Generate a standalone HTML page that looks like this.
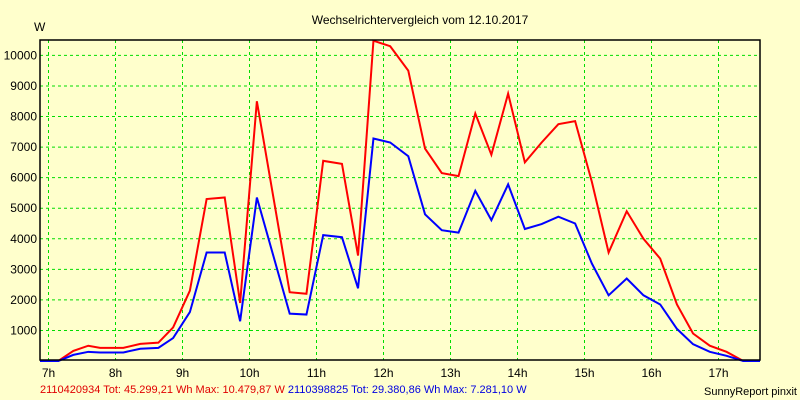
<!DOCTYPE html>
<html><head><meta charset="utf-8"><style>
body{margin:0;background:#ffffcc;}
svg{display:block;font-family:"Liberation Sans",Arial,sans-serif;}
</style></head><body>
<svg width="800" height="400">
<rect x="0" y="0" width="800" height="400" fill="#ffffcc"/>
<text x="420" y="24" font-size="12" text-anchor="middle">Wechselrichtervergleich vom 12.10.2017</text>
<text x="34" y="31" font-size="12">W</text>
<g id="grid"></g>
<g id="series"></g>
<rect x="40" y="40" width="720" height="320" fill="none" stroke="#000" stroke-width="1.5"/>
<text x="40" y="393" font-size="11"><tspan fill="#e00000">2110420934 Tot: 45.299,21 Wh Max: 10.479,87 W</tspan><tspan fill="#0000e0"> 2110398825 Tot: 29.380,86 Wh Max: 7.281,10 W</tspan></text>
<text x="797" y="395" font-size="11" text-anchor="end">SunnyReport pinxit</text>
</svg>
<script>
const hourTicks=[7,8,9,10,11,12,13,14,15,16,17];
const valueTicks=[1000,2000,3000,4000,5000,6000,7000,8000,9000,10000];
const times=[6.87,7.146,7.37,7.594,7.77,8.117,8.37,8.64,8.86,9.11,9.36,9.63,9.86,10.11,10.6,10.85,11.1,11.38,11.62,11.85,12.1,12.37,12.62,12.87,13.12,13.37,13.61,13.86,14.11,14.36,14.61,14.86,15.11,15.36,15.63,15.88,16.13,16.38,16.62,16.87,17.12,17.37,17.62];
const redValues=[0,0,330,500,430,430,560,600,1100,2300,5300,5350,1900,8500,2250,2200,6550,6450,3450,10480,10300,9500,6950,6150,6050,8100,6750,8750,6500,7150,7750,7850,5860,3550,4900,4000,3350,1850,900,500,300,0,0];
const blueValues=[0,0,200,300,280,280,400,430,750,1600,3550,3550,1300,5350,1550,1520,4120,4050,2380,7280,7150,6700,4800,4280,4200,5570,4610,5780,4320,4480,4720,4500,3190,2150,2700,2150,1850,1050,550,300,170,0,0];
const NS='http://www.w3.org/2000/svg';
const xS=h=>Math.min(760,Math.max(40,48.5+(h-7)*67));
const yS=v=>361-v*0.03056;
const svg=document.querySelector('svg');
const grid=document.getElementById('grid'),ser=document.getElementById('series');
hourTicks.forEach(h=>{
 const l=document.createElementNS(NS,'line');
 l.setAttribute('x1',xS(h));l.setAttribute('x2',xS(h));l.setAttribute('y1',40);l.setAttribute('y2',360);
 l.setAttribute('stroke','#00dd00');l.setAttribute('stroke-dasharray','3,3');
 
 
 grid.appendChild(l);
 const t=document.createElementNS(NS,'text');
 t.setAttribute('x',xS(h));t.setAttribute('y',377);t.setAttribute('font-size','12');t.setAttribute('text-anchor','middle');
 t.textContent=h+'h';
 
 
 svg.appendChild(t);
});
valueTicks.forEach(v=>{
 const l=document.createElementNS(NS,'line');
 l.setAttribute('x1',40);l.setAttribute('x2',760);l.setAttribute('y1',yS(v));l.setAttribute('y2',yS(v));
 l.setAttribute('stroke','#00dd00');l.setAttribute('stroke-dasharray','3,3');
 
 
 grid.appendChild(l);
 const t=document.createElementNS(NS,'text');
 t.setAttribute('x',37);t.setAttribute('y',yS(v)+4);t.setAttribute('font-size','12');t.setAttribute('text-anchor','end');
 t.textContent=v;
 
 
 svg.appendChild(t);
});
function line(vals,color,name){
 const p=document.createElementNS(NS,'polyline');
 p.setAttribute('points',vals.map((v,i)=>xS(times[i])+','+yS(v)).join(' '));
 p.setAttribute('fill','none');p.setAttribute('stroke',color);p.setAttribute('stroke-width','2');
 
 
 ser.appendChild(p);
}
line(redValues,'#ff0000','series-2110420934');
line(blueValues,'#0000ff','series-2110398825');
</script>
</body></html>
